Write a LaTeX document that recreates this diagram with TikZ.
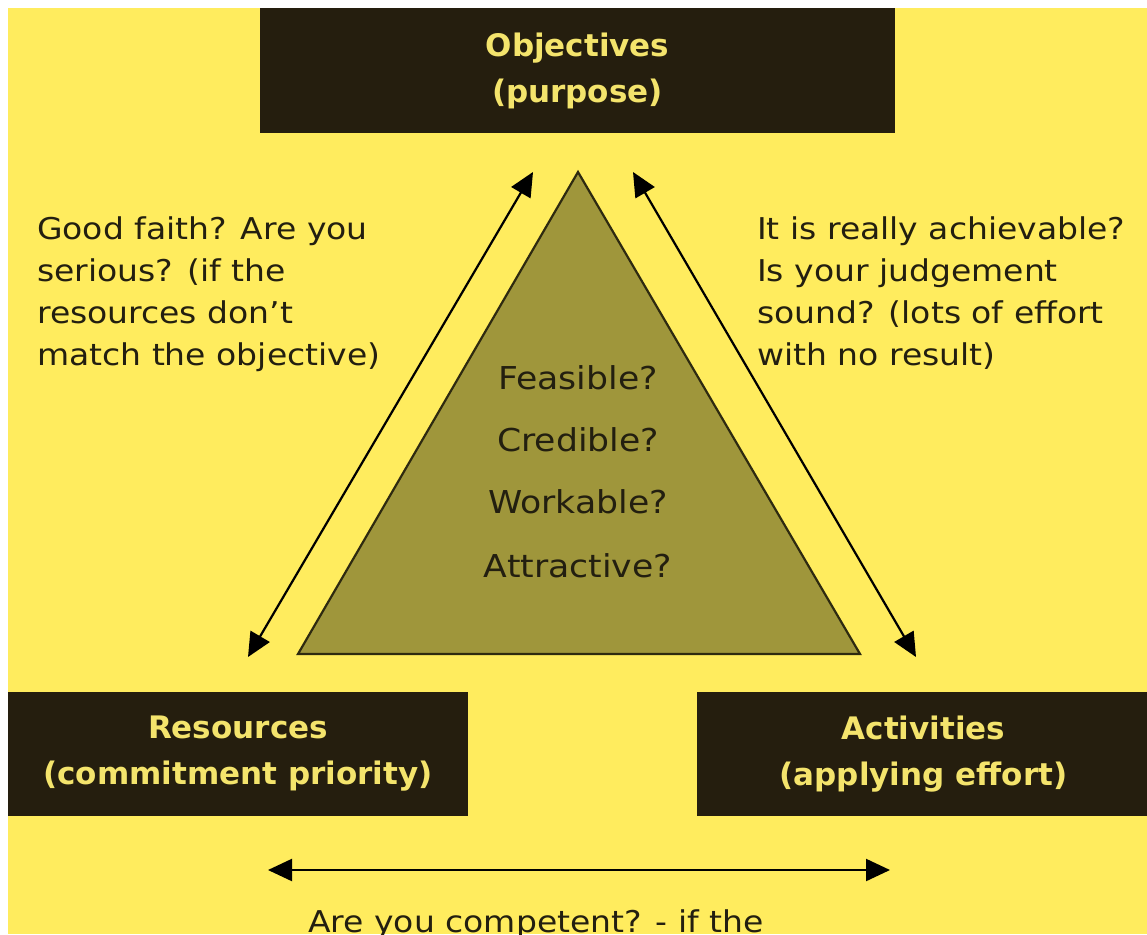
\documentclass[tikz,border=0pt]{standalone}
\usepackage{fontspec}
\setmainfont{DejaVu Sans}
\newfontfamily\notefont{DejaVu Sans}[FakeStretch=1.1]
\newfontfamily\boxfont{DejaVu Sans}
\usetikzlibrary{arrows.meta}

\definecolor{bgyellow}{HTML}{FFEC5E}
\definecolor{boxdark}{HTML}{251E0E}
\definecolor{boxtext}{HTML}{F4E46C}
\definecolor{olive}{HTML}{9F963B}
\definecolor{olivedge}{HTML}{2E2A10}
\definecolor{inkdark}{HTML}{231F10}

\tikzset{
  darkbox/.style={fill=boxdark, draw=none, text=boxtext, align=center,
    inner sep=0pt, font=\boxfont\bfseries\fontsize{31}{46}\selectfont},
  note/.style={text=inkdark, align=left, inner sep=0pt,
    font=\notefont\fontsize{30}{42}\selectfont},
  question/.style={text=inkdark, inner sep=0pt,
    font=\notefont\fontsize{31.5}{40}\selectfont},
  twoway/.style={draw=black, line width=2.2pt,
    {Triangle[length=24pt,width=22pt]}-{Triangle[length=24pt,width=22pt]}}
}

\begin{document}
\begin{tikzpicture}[x=1pt,y=-1pt]
  \useasboundingbox (0,0) rectangle (1147,934);
  \clip (0,0) rectangle (1147,934);
  \fill[white] (0,0) rectangle (1147,934);
  \fill[bgyellow] (8,8) rectangle (1147,934);

  % the three corner boxes
  \node[darkbox, minimum width=635pt, minimum height=125pt] (obj) at (577.5,70.5)
    {Objectives\\(purpose)};
  \node[darkbox, minimum width=460pt, minimum height=124pt] (res) at (238,754)
    {Resources\\(commitment priority)};
  \node[darkbox, minimum width=453pt, minimum height=124pt] (act) at (923.5,754)
    {Activities\\(applying effort)};

  % central triangle
  \coordinate (apex) at (578,172);
  \coordinate (tl) at (298,654);
  \coordinate (tr) at (860,654);
  \filldraw[fill=olive, draw=olivedge, line width=2.2pt, line join=miter]
    (apex) -- (tl) -- (tr) -- cycle;

  \node[question] (q1) at (578,378) {Feasible?};
  \node[question] (q2) at (578,440) {Credible?};
  \node[question] (q3) at (578,502) {Workable?};
  \node[question] (q4) at (578,566) {Attractive?};

  % double-headed arrows along the sides
  \coordinate (la) at (248,657);
  \coordinate (lb) at (533,172);
  \coordinate (ra) at (633,172);
  \coordinate (rb) at (916,657);
  \coordinate (ba) at (268,870);
  \coordinate (bb) at (890,870);
  \draw[twoway] (la) -- (lb);
  \draw[twoway] (ra) -- (rb);
  \draw[twoway] (ba) -- (bb);

  % side notes
  \node[note, anchor=north west] (leftnote) at (37,217)
    {Good faith? Are you\\serious? (if the\\resources don’t\\match the objective)};
  \node[note, anchor=north west] (rightnote) at (757,217)
    {It is really achievable?\\Is your judgement\\sound? (lots of effort\\with no result)};
  \node[note, anchor=base] (bottomnote) at (536,932)
    {Are you competent? - if the};
\end{tikzpicture}
\end{document}
